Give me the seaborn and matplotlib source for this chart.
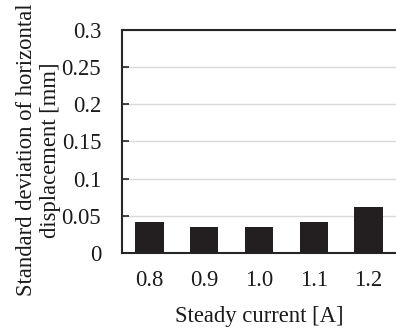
import numpy as np
import pandas as pd
import seaborn as sns
import matplotlib
matplotlib.use('Agg')
import matplotlib.pyplot as plt

currents = ['0.8', '0.9', '1.0', '1.1', '1.2']
std_dev = [0.042, 0.035, 0.035, 0.041, 0.062]
y_ticks = [0, 0.05, 0.1, 0.15, 0.2, 0.25, 0.3]
y_tick_labels = ['0', '0.05', '0.1', '0.15', '0.2', '0.25', '0.3']

sns.set_theme(style='white')
plt.rcParams['font.family'] = ['Liberation Serif', 'DejaVu Serif']

df = pd.DataFrame({'current': currents, 'std': std_dev})

fig = plt.figure(figsize=(3.96, 3.34), dpi=100)
ax = fig.add_axes([0.308, 0.243, 0.692, 0.667])

sns.barplot(data=df, x='current', y='std', color='#231f20', saturation=1,
            width=0.52, linewidth=0, ax=ax, zorder=3)

ax.set_ylim(0, 0.3)
ax.set_xlim(-0.5, 4.5)
ax.set_yticks(y_ticks)
ax.set_yticklabels(y_tick_labels)
ax.yaxis.grid(True, color='#d9d9d9', linewidth=1.0, zorder=0)
ax.set_axisbelow(True)

for side in ['left', 'bottom', 'top']:
    ax.spines[side].set_visible(True)
    ax.spines[side].set_color('#262626')
    ax.spines[side].set_linewidth(1.5)
ax.spines['right'].set_visible(False)

fs = 16.3
ax.tick_params(axis='y', which='major', direction='in', length=5, width=1.2,
               color='#262626', left=True, labelsize=fs, pad=15)
ax.tick_params(axis='x', which='major', length=0, labelsize=fs, pad=12)
for lbl in ax.get_xticklabels() + ax.get_yticklabels():
    lbl.set_color('#1a1a1a')

ax.set_xlabel('Steady current [A]', fontsize=fs, color='#1a1a1a', labelpad=11)
ax.set_ylabel('Standard deviation of horizontal\ndisplacement [mm]', fontsize=fs,
              color='#1a1a1a', linespacing=1.2)
ax.yaxis.set_label_coords(-0.222, 0.462)

fig.savefig('out.png', dpi=100)
